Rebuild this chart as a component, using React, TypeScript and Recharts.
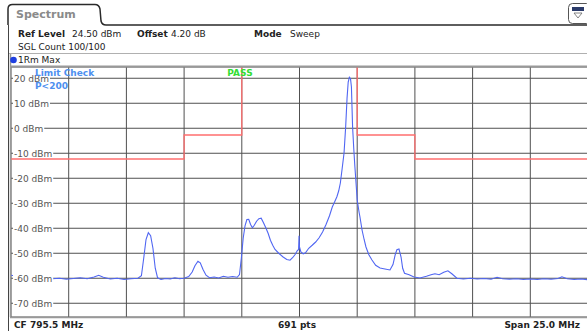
import React from 'react';
import { LineChart, Line, XAxis, YAxis, CartesianGrid } from 'recharts';

// Trace (1Rm Max) — frequency in MHz, level in dBm
const traceFreqMHz = [
  783.0, 783.3, 783.6, 783.9, 784.2, 784.5, 784.8, 785.1, 785.4, 785.7,
  786.0, 786.3, 786.6, 786.8, 787.0, 787.3, 787.6, 787.9, 788.2, 788.5,
  788.65, 788.75, 788.85, 788.95, 789.05, 789.15, 789.25, 789.35, 789.5, 789.7,
  789.9, 790.1, 790.3, 790.5, 790.7, 790.85, 790.97, 791.1, 791.2, 791.32,
  791.45, 791.6, 791.8, 792.0, 792.2, 792.4, 792.6, 792.8, 792.9, 792.98,
  793.06, 793.14, 793.22, 793.3, 793.38, 793.46, 793.54, 793.64, 793.74, 793.84,
  793.94, 794.04, 794.14, 794.24, 794.34, 794.44, 794.6, 794.79, 794.95, 795.09,
  795.2, 795.31, 795.4, 795.46, 795.48, 795.5, 795.56, 795.66, 795.76, 795.9,
  796.05, 796.2, 796.35, 796.5, 796.65, 796.8, 796.92, 797.02, 797.12, 797.2,
  797.27, 797.35, 797.43, 797.5, 797.56, 797.61, 797.66, 797.71, 797.75, 797.8,
  797.85, 797.9, 797.95, 798.0, 798.08, 798.12, 798.21, 798.3, 798.38, 798.5,
  798.64, 798.8, 798.99, 799.2, 799.42, 799.55, 799.65, 799.72, 799.81, 799.9,
  799.97, 800.05, 800.25, 800.46, 800.72, 801.0, 801.2, 801.37, 801.55, 801.75,
  801.93, 802.1, 802.32, 802.6, 802.9, 803.2, 803.5, 803.8, 804.06, 804.3,
  804.6, 804.9, 805.2, 805.5, 805.8, 806.1, 806.4, 806.7, 806.87, 807.1,
  807.4, 807.7, 808.0,
];
const traceLevelDbm = [
  -58.8, -59.2, -59.0, -59.6, -60.0, -59.7, -60.2, -60.0, -60.4, -60.1,
  -59.8, -60.2, -59.5, -58.8, -59.6, -60.3, -60.0, -60.5, -60.2, -60.0,
  -59.0, -52.0, -44.5, -41.8, -43.0, -48.0, -56.0, -59.8, -60.5, -60.1,
  -60.3, -59.8, -60.2, -60.0, -59.3, -57.5, -55.0, -53.2, -53.8, -56.5,
  -58.8, -59.8, -59.5, -59.9, -59.2, -59.6, -59.3, -59.6, -58.5, -52.0,
  -44.0, -39.0, -36.5, -36.4, -38.5, -39.8, -38.8, -37.2, -36.2, -36.0,
  -37.8, -39.8, -42.0, -44.8, -46.8, -48.5, -50.0, -51.5, -52.5, -52.8,
  -51.8, -50.5, -49.0, -48.5, -43.0, -47.5, -49.5, -50.2, -49.8, -48.0,
  -46.8, -45.5, -43.8, -41.5, -38.5, -35.0, -31.5, -29.5, -27.4, -25.0,
  -21.9, -16.0, -9.9, 0.5, 12.0, 18.5, 20.4, 19.8, 16.5, 0.6,
  -8.0, -15.4, -22.0, -28.7, -33.5, -35.5, -40.7, -44.5, -47.5, -50.5,
  -52.7, -54.8, -55.9, -56.3, -56.7, -54.5, -50.5, -48.6, -48.3, -51.5,
  -56.0, -58.0, -58.6, -59.5, -59.9, -59.2, -58.6, -58.2, -58.6, -57.6,
  -57.0, -58.2, -60.0, -60.3, -60.0, -60.3, -60.1, -60.4, -59.6, -60.2,
  -60.4, -60.2, -60.5, -60.3, -60.5, -60.2, -60.4, -60.1, -59.4, -60.2,
  -60.5, -60.3, -60.6,
];

// Limit line (upper part lies above the display)
const limitFreqMHz = [783, 790.5, 790.5, 793, 793, 798, 798, 800.5, 800.5, 808];
const limitLevelDbm = [-12.3, -12.3, -2.7, -2.7, 40, 40, -2.7, -2.7, -12.3, -12.3];

const yTicks = [20, 10, 0, -10, -20, -30, -40, -50, -60, -70];
const xTicks = [783, 785.5, 788, 790.5, 793, 795.5, 798, 800.5, 803, 805.5, 808];
const refLevelDbm = 24.5;
const bottomLevelDbm = -75.5;

const traceData = traceFreqMHz.map((f, i) => ({ f, v: traceLevelDbm[i] }));
const limitData = limitFreqMHz.map((f, i) => ({ f, v: limitLevelDbm[i] }));

const FONT = '"DejaVu Sans", Verdana, sans-serif';

const charW = (s: string) => {
  let w = 0;
  for (const c of s) {
    if (c === '-') w += 3.25;
    else if (c === ' ') w += 2.86;
    else if (c === 'd') w += 5.71;
    else if (c === 'B') w += 6.17;
    else if (c === 'm') w += 8.77;
    else w += 5.73;
  }
  return w;
};

const YTick = (props: any) => {
  const { y, payload } = props;
  const label = `${payload.value} dBm`;
  const w = charW(label);
  return (
    <g>
      <rect x={13} y={y - 4} width={w + 2} height={8} fill="#ffffff" />
      <text x={14} y={y} dy={3.3} fontSize={9} fill="#555555" fontFamily={FONT}>
        {label}
      </text>
    </g>
  );
};

export default function App() {
  return (
    <div
      style={{
        position: 'absolute',
        left: 0,
        top: 0,
        width: 587,
        height: 331,
        overflow: 'hidden',
        background: '#ffffff',
        fontFamily: FONT,
      }}
    >
      <div style={{ position: 'absolute', left: 0, top: 0 }}>
        <LineChart
          width={600}
          height={331}
          margin={{ top: 67, right: 12, bottom: 14, left: 11 }}
        >
          <CartesianGrid stroke="#505050" strokeWidth={1} horizontal vertical />
          <XAxis
            type="number"
            dataKey="f"
            domain={[783, 808]}
            ticks={xTicks}
            hide
            allowDataOverflow
          />
          <YAxis
            type="number"
            domain={[bottomLevelDbm, refLevelDbm]}
            ticks={yTicks}
            allowDataOverflow
            mirror
            axisLine={false}
            tickLine={false}
            tick={<YTick />}
            zIndex={300}
          />
          <Line
            data={limitData}
            dataKey="v"
            type="linear"
            stroke="#ff6f6f"
            strokeWidth={1.3}
            dot={false}
            isAnimationActive={false}
          />
          <Line
            data={traceData}
            dataKey="v"
            type="linear"
            stroke="#5066f2"
            strokeWidth={1.1}
            dot={false}
            isAnimationActive={false}
          />
        </LineChart>
      </div>
      <svg
        width={587}
        height={331}
        style={{ position: 'absolute', left: 0, top: 0, pointerEvents: 'none' }}
      >
        {/* tab */}
        <path
          d="M8,25 L8,9 Q8,4.5 12.5,4.5 L95,4.5 Q99,4.5 100,9 L101,21 Q102,25 106,25 L587,25"
          fill="none"
          stroke="#2a2a2a"
          strokeWidth={1.5}
        />
        <text x={16} y={18} fontSize={11} fontWeight="bold" fill="#8a8a8a" fontFamily={FONT}>
          Spectrum
        </text>
        {/* icon */}
        <rect x={568.5} y={3.5} width={22} height={20} rx={4} fill="#fff" stroke="#555" strokeWidth={1} />
        <rect x={572} y={7} width={12} height={4} fill="#2b3b6a" />
        <path d="M574,13 L582,13 L578,18 Z" fill="none" stroke="#666" strokeWidth={0.8} />
        {/* header */}
        <text y={37} fontSize={9} fontFamily={FONT} fill="#222">
          <tspan x={18} fontWeight="bold">Ref Level</tspan>
          <tspan x={72}>24.50 dBm</tspan>
          <tspan x={137} fontWeight="bold">Offset</tspan>
          <tspan x={171}>4.20 dB</tspan>
          <tspan x={254} fontWeight="bold">Mode</tspan>
          <tspan x={290}>Sweep</tspan>
        </text>
        <text x={18} y={50} fontSize={9} fontFamily={FONT} fill="#222">
          SGL Count 100/100
        </text>
        <line x1={8} y1={53.5} x2={587} y2={53.5} stroke="#b0b0b0" strokeWidth={1} />
        {/* frame */}
        <line x1={8.5} y1={25} x2={8.5} y2={331} stroke="#444" strokeWidth={1} />
        <line x1={10.5} y1={54} x2={10.5} y2={317} stroke="#999" strokeWidth={1.5} />
        <line x1={10} y1={66.5} x2={587} y2={66.5} stroke="#999" strokeWidth={2} />
        <line x1={10} y1={317.5} x2={587} y2={317.5} stroke="#999" strokeWidth={1.5} />
        {/* trace label */}
        <circle cx={13.5} cy={60} r={3.3} fill="#1f3fe0" />
        <text x={18} y={63} fontSize={9} fontFamily={FONT} fill="#222">
          1Rm Max
        </text>
        {/* limit check */}
        <text x={35} y={76} fontSize={9} fontWeight="bold" fontFamily={FONT} fill="#4d8fef">
          Limit Check
        </text>
        <text x={35} y={89} fontSize={9} fontWeight="bold" fontFamily={FONT} fill="#4d8fef">
          P&lt;200
        </text>
        <text x={240} y={76} fontSize={9} fontWeight="bold" fontFamily={FONT} fill="#33dd33" textAnchor="middle">
          PASS
        </text>
        {/* status bar */}
        <text x={14} y={328} fontSize={9} fontWeight="bold" fontFamily={FONT} fill="#222">
          CF 795.5 MHz
        </text>
        <text x={297} y={328} fontSize={9} fontWeight="bold" fontFamily={FONT} fill="#222" textAnchor="middle">
          691 pts
        </text>
        <text x={580} y={328} fontSize={9} fontWeight="bold" fontFamily={FONT} fill="#222" textAnchor="end">
          Span 25.0 MHz
        </text>
      </svg>
    </div>
  );
}
